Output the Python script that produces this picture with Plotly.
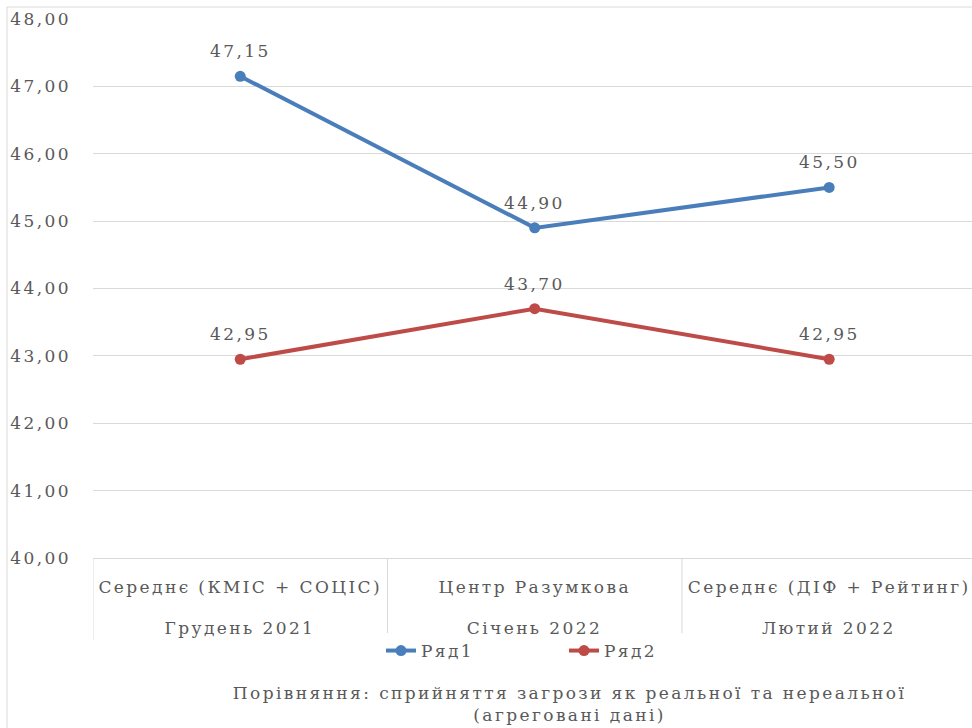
import plotly.graph_objects as go

periods = ["Грудень 2021", "Січень 2022", "Лютий 2022"]
sources = ["Середнє (КМІС + СОЦІС)", "Центр Разумкова", "Середнє (ДІФ + Рейтинг)"]
series1_name = "Ряд1"
series1 = [47.15, 44.90, 45.50]
series2_name = "Ряд2"
series2 = [42.95, 43.70, 42.95]
title_text = "Порівняння: сприйняття загрози як реальної та нереальної<br>(агреговані дані)"

FONT = "DejaVu Serif"
FS = 17
GRAY = "#595959"
GRID = "#d9d9d9"

W, H = 972, 728
L, T, B = 93, 19, 170
pw, ph = W - L, H - T - B
xpos = list(range(len(sources)))

fig = go.Figure()
annotations = []
for name, vals, color in [(series1_name, series1, "#4a7ebb"), (series2_name, series2, "#be4b48")]:
    fig.add_trace(go.Scatter(
        x=xpos, y=vals, name=name,
        mode="lines+markers",
        line=dict(color=color, width=4),
        marker=dict(color=color, size=11),
        cliponaxis=False,
    ))
    for xi, v in zip(xpos, vals):
        annotations.append(dict(x=xi, y=v, xref="x", yref="y", text=f"{v:.2f}".replace(".", ","),
                                showarrow=False, yshift=25, xanchor="center", yanchor="middle",
                                font=dict(family=FONT, size=FS, color=GRAY)))

# outer category level
for xi, p in zip(xpos, periods):
    annotations.append(dict(x=xi, y=(H - B - 628) / ph, xref="x", yref="paper", text=p,
                            showarrow=False, xanchor="center", yanchor="middle",
                            font=dict(family=FONT, size=FS, color=GRAY)))

annotations.append(dict(text=title_text, xref="paper", yref="paper",
                        x=(570 - L) / pw, y=(H - B - 704) / ph, xanchor="center", yanchor="middle",
                        showarrow=False, font=dict(family=FONT, size=FS, color=GRAY)))

shapes = [dict(type="rect", xref="paper", yref="paper",
               x0=(7 - L) / pw, x1=(W + 5 - L) / pw,
               y0=-1, y1=(H - B - 7) / ph,
               line=dict(color=GRID, width=1), fillcolor="rgba(0,0,0,0)", layer="below")]
for i in range(len(sources) + 1):
    shapes.append(dict(type="line", xref="x", yref="paper", x0=i - 0.5, x1=i - 0.5,
                       y0=0, y1=(H - B - 640) / ph, line=dict(color=GRID, width=1)))

fig.update_layout(
    width=W, height=H,
    margin=dict(l=L, r=0, t=T, b=B, autoexpand=False),
    paper_bgcolor="white", plot_bgcolor="white",
    separators=",.",
    font=dict(family=FONT, size=FS, color=GRAY),
    showlegend=True,
    legend=dict(orientation="h", x=(381 - L) / pw, xanchor="left",
                y=(H - B - 651) / ph, yanchor="middle",
                font=dict(family=FONT, size=FS, color=GRAY), entrywidth=138,
                tracegroupgap=0),
    xaxis=dict(range=[-0.5, 2.485], showgrid=False, automargin=False,
               tickvals=xpos, ticktext=sources, ticks="",
               showline=True, linecolor=GRID, linewidth=1, zeroline=False,
               ticklabelstandoff=14,
               tickfont=dict(family=FONT, size=FS, color=GRAY)),
    yaxis=dict(range=[40, 48], dtick=1, tickformat=".2f", showgrid=True, automargin=False,
               gridcolor=GRID, gridwidth=1, zeroline=False, showline=False,
               ticklabelstandoff=21,
               tickfont=dict(family=FONT, size=FS, color=GRAY)),
    shapes=shapes,
    annotations=annotations,
)

post = """
document.body.style.margin='0';
var s=document.createElement('style');
s.innerHTML='.main-svg text{letter-spacing:2.4px;}';
document.head.appendChild(s);
"""
fig.write_html("out.html", post_script=post, config={"displayModeBar": False})
